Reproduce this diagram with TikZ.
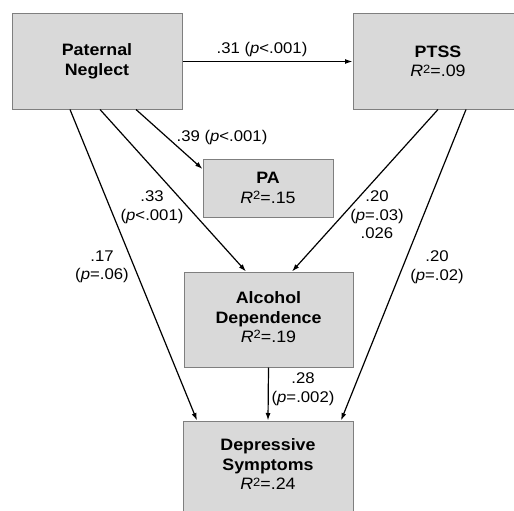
\documentclass[tikz,border=0pt]{standalone}
\usepackage{fontspec}
\setmainfont{Liberation Sans}[FakeStretch=1.08]
\usetikzlibrary{calc,arrows.meta}
\definecolor{boxfill}{HTML}{D9D9D9}
\definecolor{boxline}{HTML}{7F7F7F}
\newcommand{\rsq}{\textit{R}\raisebox{0.45ex}{\fontsize{12}{12}\selectfont 2}}
\begin{document}
\begin{tikzpicture}[x=1pt,y=-1pt,
  varbox/.style={draw=boxline,fill=boxfill,line width=1pt,minimum width=170pt,minimum height=95pt,align=center,inner sep=0pt,font=\fontsize{16.5}{19.5}\selectfont},
  path/.style={line width=1.2pt,-{Latex[length=7.5pt,width=5pt]}},
  lab/.style={align=center,font=\fontsize{15.5}{18.5}\selectfont,inner sep=0pt}]
\useasboundingbox (0,0) rectangle (514,511);
\clip (0,0) rectangle (514,511);
\fill[white] (0,0) rectangle (514,511);
\node[varbox] (pn) at (97,61.5) {\textbf{Paternal}\\\textbf{Neglect}};
\node[varbox] (ptss) at (438,61.5) {\textbf{PTSS}\\\rsq=.09};
\node[varbox,minimum width=130pt,minimum height=58pt] (pa) at (268,188) {\textbf{PA}\\\rsq=.15};
\node[varbox,minimum width=169pt] (alc) at (268.5,319.5) {\textbf{Alcohol}\\\textbf{Dependence}\\\rsq=.19\\[-15pt]};
\node[varbox] (dep) at (268,468.5) {\textbf{Depressive}\\\textbf{Symptoms}\\\rsq=.24\\[-11.5pt]};
\draw[path] (pn.east) -- (ptss.west);
\draw[path] ($(pn.south)+(39,0)$) -- ($(pa.west)+(0,-19)$);
\draw[path] ($(pn.south)+(3,0)$) -- ($(alc.north)+(-22.5,0)$);
\draw[path] ($(pn.south)+(-27,0)$) -- ($(dep.north)+(-71,0)$);
\draw[path] ($(ptss.south)+(0,0)$) -- ($(alc.north)+(23.5,0)$);
\draw[path] ($(ptss.south)+(28,0)$) -- ($(dep.north)+(73,0)$);
\draw[path] (alc.south) -- (dep.north);
\node[lab] (l1) at (262,49) {.31 (\textit{p}<.001)};
\node[lab] (l2) at (222,137) {.39 (\textit{p}<.001)};
\node[lab] (l3) at (152,207) {.33\\(\textit{p}<.001)};
\node[lab] (l4) at (102,267) {.17\\(\textit{p}=.06)};
\node[lab] (l5) at (377,215) {.20\\(\textit{p}=.03)\\.026};
\node[lab] (l6) at (437,267) {.20\\(\textit{p}=.02)};
\node[lab] (l7) at (303,389) {.28\\(\textit{p}=.002)};
\end{tikzpicture}
\end{document}
